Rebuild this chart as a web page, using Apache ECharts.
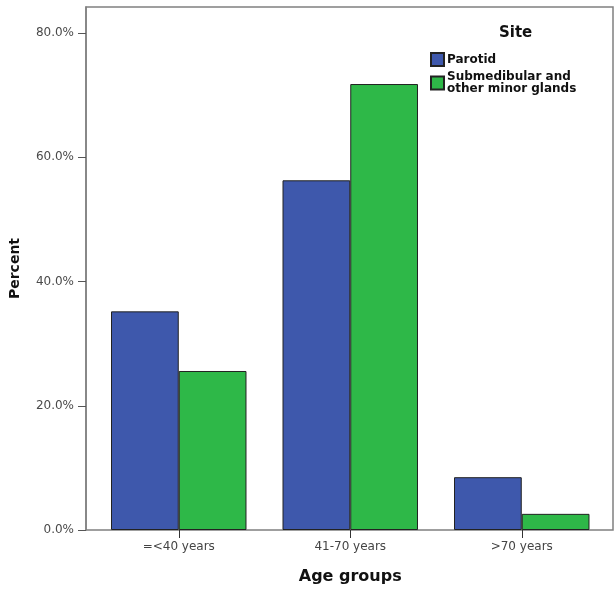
<!DOCTYPE html>
<html>
<head>
<meta charset="utf-8">
<script src="https://cdn.jsdelivr.net/npm/echarts@6/dist/echarts.min.js"></script>
<style>
html,body{margin:0;padding:0;background:#fff;}
#chart{width:614px;height:590px;}
</style>
</head>
<body>
<div id="chart"></div>
<script>
const categories = ['=<40 years', '41-70 years', '>70 years'];
const parotid = [35.2, 56.3, 8.5];
const submandibular = [25.6, 71.8, 2.6];
const yTicks = [0, 20, 40, 60, 80];
const seriesNames = ['Parotid', 'Submedibular and\nother minor glands'];
const legendTitle = 'Site';
const xTitle = 'Age groups';
const yTitle = 'Percent';

const FONT = '"DejaVu Sans", Verdana, sans-serif';
const YMAX = 84.2;
const chart = echarts.init(document.getElementById('chart'));
chart.setOption({
  animation: false,
  backgroundColor: '#fff',
  title: {
    text: legendTitle,
    left: 499, top: 26, padding: 0,
    textStyle: {fontFamily: FONT, fontSize: 15, fontWeight: 'bold', color: '#111'}
  },
  legend: {
    orient: 'vertical',
    left: 430, top: 52, padding: 0,
    itemWidth: 13, itemHeight: 13, itemGap: 4,
    icon: 'rect',
    data: seriesNames,
    textStyle: {fontFamily: FONT, fontSize: 12, fontWeight: 'bold', color: '#111', lineHeight: 12, padding: [0,0,0,-2]}
  },
  grid: [
    {left: 86, top: 7, right: 1, bottom: 60, show: true, borderColor: '#808080', borderWidth: 1.5, backgroundColor: 'transparent', containLabel: false},
    {left: 93, top: 7, width: 514.5, bottom: 60, containLabel: false}
  ],
  xAxis: [
    {gridIndex: 0, type: 'value', show: false, min: 0, max: 1},
    {gridIndex: 1, type: 'category', data: categories,
     axisLine: {show: false},
     axisTick: {show: true, alignWithLabel: true, length: 8, inside: false, lineStyle: {color: '#333', width: 1}},
     axisLabel: {fontFamily: FONT, fontSize: 12, color: '#444', margin: 11},
     name: xTitle, nameLocation: 'middle', nameGap: 39,
     nameTextStyle: {fontFamily: FONT, fontSize: 16, fontWeight: 'bold', color: '#111'}
    }
  ],
  yAxis: [
    {gridIndex: 0, type: 'value', min: 0, max: YMAX,
     axisLine: {show: true, lineStyle: {color: '#808080', width: 1.5}},
     axisTick: {show: true, length: 8, customValues: yTicks, lineStyle: {color: '#555'}},
     axisLabel: {customValues: yTicks, fontFamily: FONT, fontSize: 12, color: '#4a4a4a', margin: 12,
                 formatter: v => v.toFixed(1) + '%'},
     splitLine: {show: false},
     name: yTitle, nameLocation: 'middle', nameGap: 64,
     nameTextStyle: {fontFamily: FONT, fontSize: 14, fontWeight: 'bold', color: '#111'}
    },
    {gridIndex: 1, type: 'value', min: 0, max: YMAX, show: false, splitLine: {show: false}}
  ],
  series: [
    {name: seriesNames[0], type: 'bar', xAxisIndex: 1, yAxisIndex: 1, data: parotid,
     barGap: '0%', barCategoryGap: '21%',
     itemStyle: {color: '#3E58AC', borderColor: '#222', borderWidth: 1}},
    {name: seriesNames[1], type: 'bar', xAxisIndex: 1, yAxisIndex: 1, data: submandibular,
     barGap: '0%', barCategoryGap: '21%',
     itemStyle: {color: '#2EB848', borderColor: '#222', borderWidth: 1}}
  ]
});
</script>
</body>
</html>
